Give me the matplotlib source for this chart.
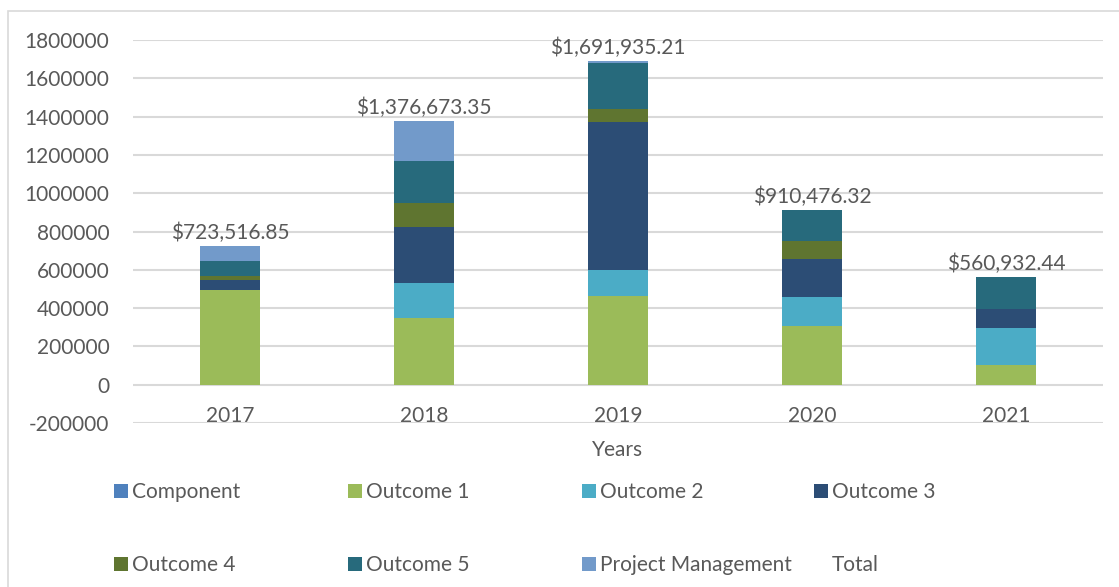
import matplotlib
matplotlib.use('Agg')
import matplotlib.pyplot as plt
from matplotlib.patches import Patch, Rectangle
import numpy as np

plt.rcParams['font.family'] = ['Lato', 'DejaVu Sans']

years = ['2017', '2018', '2019', '2020', '2021']
component = [0, 0, 0, 0, 0]
outcome1 = [492000, 346000, 463000, 304000, 103000]
outcome2 = [0, 186000, 135000, 153000, 194000]
outcome3 = [56000, 294000, 776000, 199000, 98000]
outcome4 = [22000, 122000, 67000, 92000, 0]
outcome5 = [78000, 222000, 240000, 162476, 165932]
project_mgmt = [75517, 206673, 10935, 0, 0]
totals = [723516.85, 1376673.35, 1691935.21, 910476.32, 560932.44]

series = [
    ('Component', component, '#4F81BD'),
    ('Outcome 1', outcome1, '#9BBB59'),
    ('Outcome 2', outcome2, '#4BACC6'),
    ('Outcome 3', outcome3, '#2C4D75'),
    ('Outcome 4', outcome4, '#5F7530'),
    ('Outcome 5', outcome5, '#276A7C'),
    ('Project Management', project_mgmt, '#729ACA'),
]

txt = '#595959'
grid = '#D9D9D9'

fig = plt.figure(figsize=(11.19, 5.87), dpi=100)
ax = fig.add_axes([133/1119, 1 - 423/587, (1103 - 133)/1119, (423 - 40)/587])

# outer chart border
fig.patches.append(Rectangle((8/1119, -0.1), 1.2, 1.1 - 11/587,
                             transform=fig.transFigure, fill=False,
                             edgecolor=grid, linewidth=1.2))

x = np.arange(len(years))
bottom = np.zeros(len(years))
handles = {}
for name, vals, col in series:
    ax.bar(x, vals, 0.31, bottom=bottom, color=col, zorder=3)
    bottom += np.array(vals)
    handles[name] = Patch(facecolor=col, edgecolor='none')

for xi, t in zip(x, totals):
    ax.annotate('${:,.2f}'.format(t), (xi, t), xytext=(0, 2), textcoords='offset points',
                ha='center', va='bottom', fontsize=15, color=txt)

ax.set_xlim(-0.5, 4.5)
ax.set_ylim(-200000, 1800000)
ax.set_yticks(range(-200000, 1800001, 200000))
ax.set_yticklabels([str(v) for v in range(-200000, 1800001, 200000)])
ax.set_xticks(x)
ax.set_xticklabels(years)
ax.grid(axis='y', color=grid, linewidth=1.5, zorder=0)
ax.tick_params(axis='y', length=0, pad=17, labelsize=15, labelcolor=txt)
ax.tick_params(axis='x', length=0, pad=-12, labelsize=15, labelcolor=txt)
ax.set_xlabel('Years', fontsize=15, color=txt, labelpad=10)
for s in ax.spines.values():
    s.set_visible(False)

# legend: four columns, two rows each
handles['Total'] = Patch(facecolor='none', edgecolor='none')
cols = [['Component', 'Outcome 4'], ['Outcome 1', 'Outcome 5'],
        ['Outcome 2', 'Project Management'], ['Outcome 3', 'Total']]
col_x = [114, 348, 582, 814]
for cx, names in zip(col_x, cols):
    fig.legend([handles[n] for n in names], names, loc='upper left',
               bbox_to_anchor=(cx/1119, 1 - 482/587), frameon=False,
               fontsize=15, labelcolor=txt, handlelength=0.65, handleheight=0.65,
               handletextpad=0.2, labelspacing=2.55, borderaxespad=0, borderpad=0)

fig.savefig('out.png', dpi=100)
